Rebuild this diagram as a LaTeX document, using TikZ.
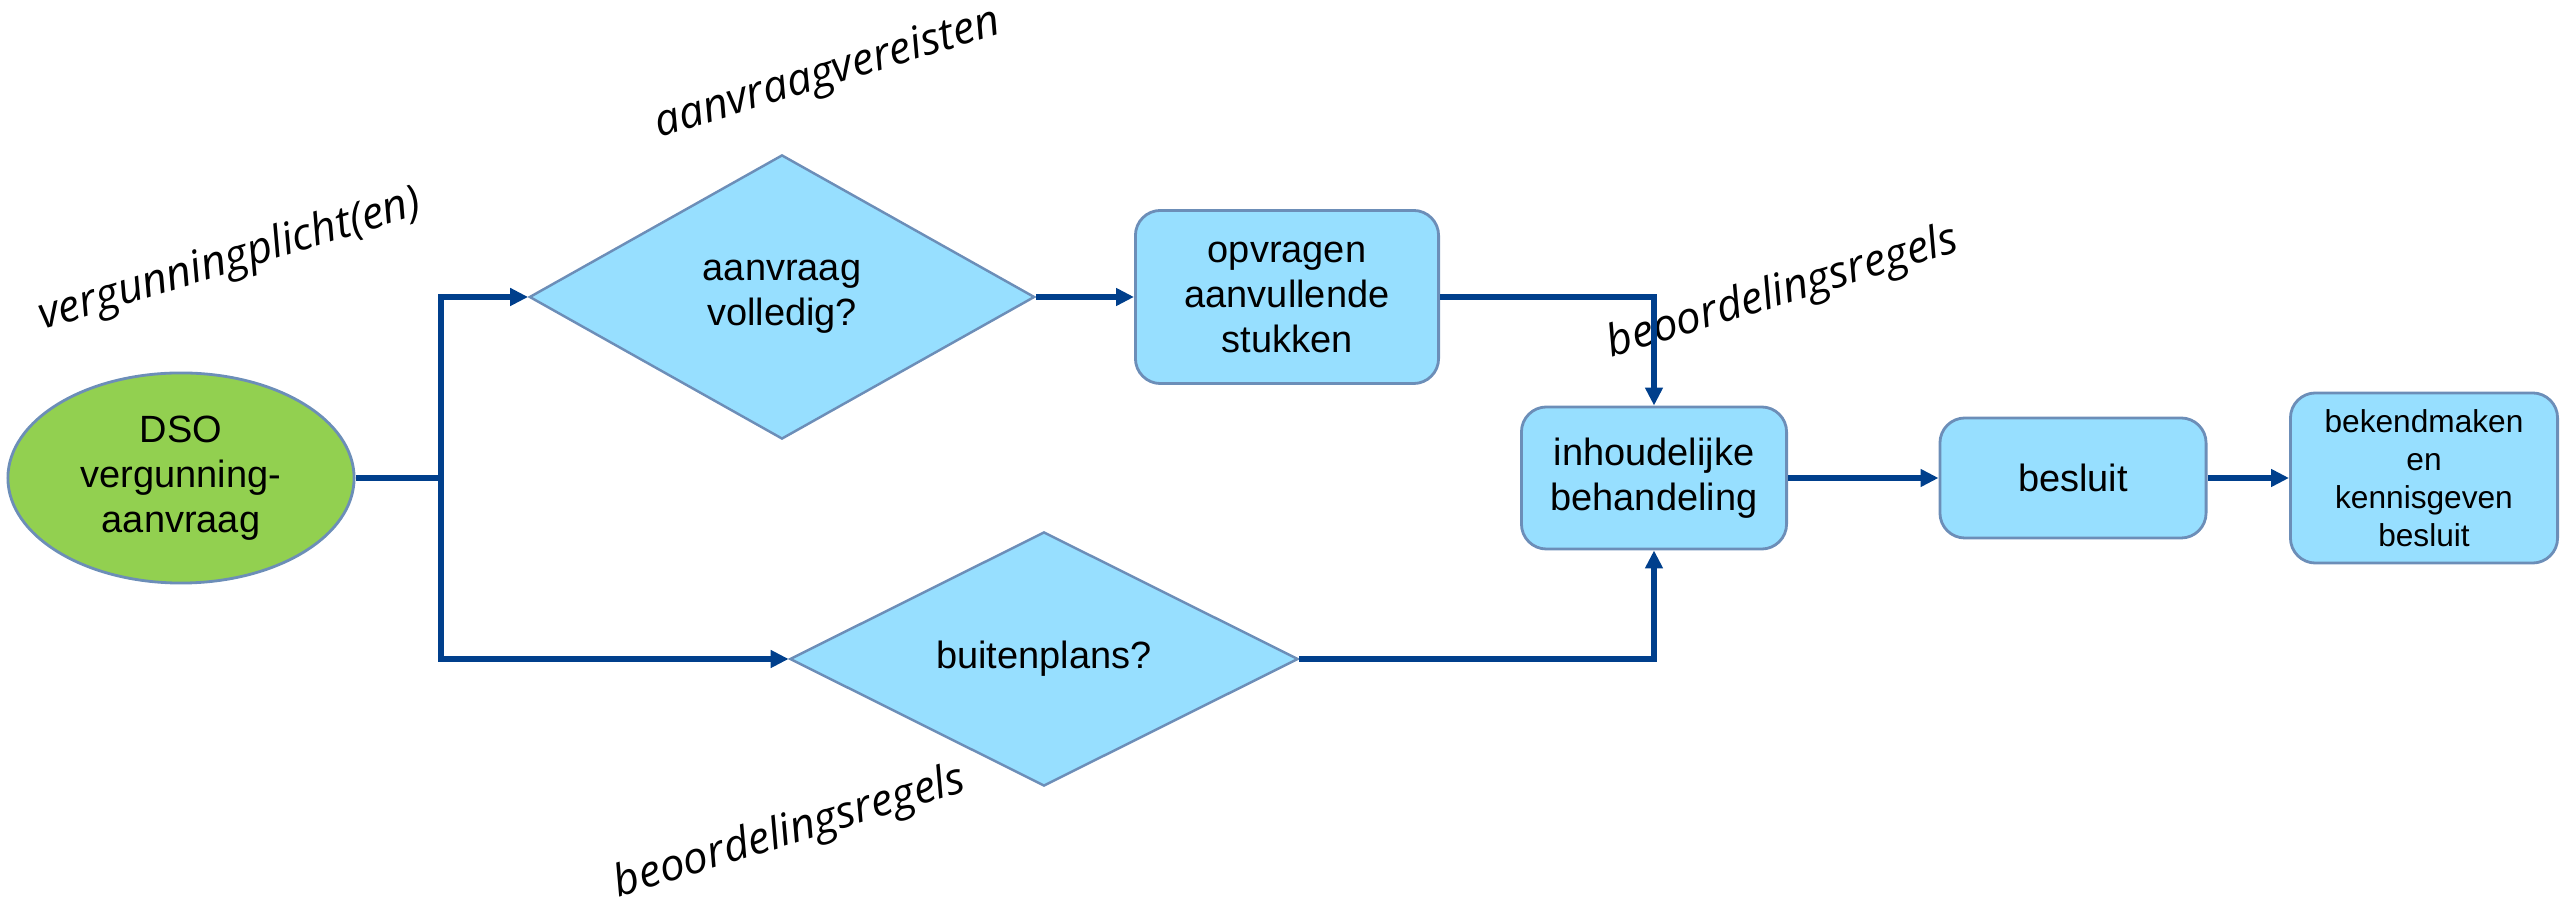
\documentclass[tikz,border=0pt]{standalone}
\usepackage{fontspec}
\setmainfont{Liberation Sans}
\newfontfamily\labfont{Open Sans}
\usetikzlibrary{shapes.geometric,arrows.meta}
\definecolor{fillblue}{RGB}{151,223,255}
\definecolor{edgeblue}{RGB}{108,142,184}
\definecolor{linkblue}{RGB}{0,63,140}
\definecolor{dsogreen}{RGB}{146,208,80}
\begin{document}
\begin{tikzpicture}[x=0.01cm,y=-0.01cm,
  nodefont/.style={font=\fontsize{10.8}{12.8}\selectfont},
  box/.style={draw=edgeblue, line width=0.8pt, fill=fillblue, rounded corners=0.25cm, align=center, inner sep=0pt, nodefont},
  dec/.style={diamond, draw=edgeblue, line width=0.7pt, fill=fillblue, align=center, inner sep=0pt, nodefont},
  ell/.style={ellipse, draw=edgeblue, line width=0.8pt, fill=dsogreen, align=center, inner sep=0pt, nodefont},
  link/.style={draw=linkblue, line width=1.5pt},
  arr/.style={link, -{Triangle[length=0.18cm,width=0.17cm]}},
  lab/.style={font=\labfont\itshape\fontsize{12.5}{15}\selectfont, rotate=17, inner sep=0pt}]
\useasboundingbox (0,0) rectangle (2560,904);

% labels
\node[lab] (l1) at (230,261) {vergunningplicht(en)};
\node[lab] (l2) at (828,75) {aanvraagvereisten};
\node[lab] (l3) at (1783,293) {beoordelingsregels};
\node[lab] (l4) at (790,833) {beoordelingsregels};

% nodes
\node[ell, minimum width=3.46cm, minimum height=2.1cm] (dso) at (181,478) {DSO\\vergunning-\\aanvraag};
\node[dec, minimum width=5.05cm, minimum height=2.84cm] (d1) at (782,297) {aanvraag\\volledig?};
\node[dec, minimum width=5.08cm, minimum height=2.54cm] (d2) at (1044,659) {buitenplans?};
\node[box, minimum width=3.03cm, minimum height=1.73cm] (opv) at (1287,297) {opvragen\\aanvullende\\stukken};
\node[box, minimum width=2.65cm, minimum height=1.42cm] (inh) at (1654,478) {inhoudelijke\\behandeling};
\node[box, minimum width=2.66cm, minimum height=1.20cm] (bes) at (2073,478) {besluit};
\node[box, minimum width=2.67cm, minimum height=1.70cm, font=\fontsize{9}{10.8}\selectfont] (bek) at (2424,478) {bekendmaken\\en\\kennisgeven\\besluit};

% connectors
\coordinate (br) at (441,478);
\draw[link] (dso.east) -- (br);
\draw[arr] (br) |- (d1.west);
\draw[arr] (br) |- (d2.west);
\draw[arr] (d1.east) -- (opv.west);
\draw[arr] (opv.east) -| (inh.north);
\draw[arr] (d2.east) -| (inh.south);
\draw[arr] (inh.east) -- (bes.west);
\draw[arr] (bes.east) -- (bek.west);
\end{tikzpicture}
\end{document}
